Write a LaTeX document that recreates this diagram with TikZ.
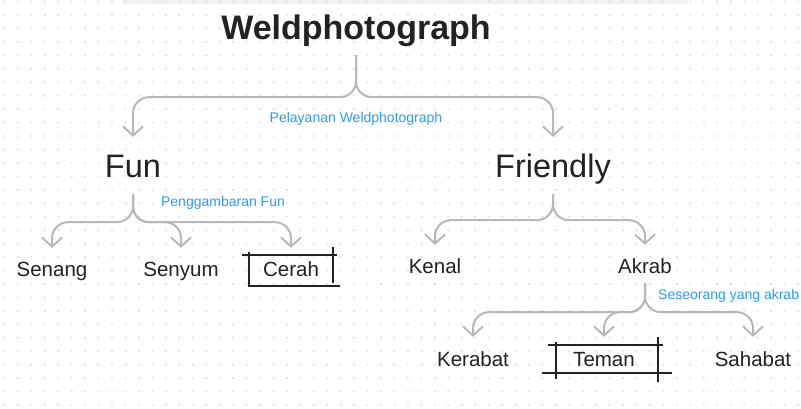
\documentclass[tikz,border=0pt]{standalone}
\usepackage{fontspec}
\setmainfont{Liberation Sans}
\usepackage{xcolor}
\usetikzlibrary{arrows.meta}
\definecolor{ink}{RGB}{34,34,34}
\definecolor{linkgray}{RGB}{184,184,184}
\definecolor{notes}{RGB}{45,155,250}
\definecolor{griddot}{RGB}{222,222,222}

\begin{document}
\begin{tikzpicture}[x=1pt, y=-1pt, >={Straight Barb[length=9pt, width=20pt]},
    root/.style={anchor=base, inner sep=0pt, text=ink, font=\bfseries\fontsize{34}{40}\selectfont, text depth=15pt},
    main/.style={anchor=base, inner sep=0pt, text=ink, font=\fontsize{32.5}{38}\selectfont, text height=41pt, text depth=16pt},
    sub/.style={anchor=base, inner sep=0pt, text=ink, font=\fontsize{20.5}{24}\selectfont, text height=28pt, text depth=10pt},
    leaf/.style={sub, text height=29pt},
    note/.style={inner sep=0pt, text=notes, font=\fontsize{14}{16}\selectfont},
    link/.style={->, draw=linkgray, line width=2pt, rounded corners=16pt},
    sketch/.style={draw=ink, line width=2pt}]
    \useasboundingbox (0,0) rectangle (801,409);
    \fill[white] (0,0) rectangle (801,409);
    \fill[black!5] (123,0) rectangle (688,4);
    \foreach \i in {0,...,59}
        \foreach \j in {0,...,30}
            \fill[griddot] (4.4+13.45*\i, 1.55+13.45*\j) circle (1.1pt);

    \node(root)[root] at (356,40) {Weldphotograph};
    \node(fun)[main] at (133,178) {Fun};
    \node(friendly)[main] at (553,178) {Friendly};
    \node(senang)[sub] at (52,276) {Senang};
    \node(senyum)[sub] at (181,276) {Senyum};
    \node(cerah)[sub] at (291,276) {Cerah};
    \node(kenal)[sub] at (435,273) {Kenal};
    \node(akrab)[sub] at (645,273) {Akrab};
    \node(kerabat)[leaf] at (473,366) {Kerabat};
    \node(teman)[leaf] at (604,366) {Teman};
    \node(sahabat)[leaf] at (753,366) {Sahabat};

    \node(note-root)[note] at (356,119) {Pelayanan Weldphotograph};
    \node(note-fun)[note] at (223,203) {Penggambaran Fun};
    \node(note-akrab)[note, anchor=west] at (658,296) {Seseorang yang akrab};

    \draw[link] (root.south) -- ++(0,42) -| (fun.north);
    \draw[link] (root.south) -- ++(0,42) -| (friendly.north);
    \draw[link] (fun.south) -- ++(0,28) -| (senang.north);
    \draw[link] (fun.south) -- ++(0,28) -| (senyum.north);
    \draw[link] (fun.south) -- ++(0,28) -| (cerah.north);
    \draw[link] (friendly.south) -- ++(0,26) -| (kenal.north);
    \draw[link] (friendly.south) -- ++(0,26) -| (akrab.north);
    \draw[link] (akrab.south) -- ++(0,29) -| (kerabat.north);
    \draw[link] (akrab.south) -- ++(0,29) -| (teman.north);
    \draw[link] (akrab.south) -- ++(0,29) -| (sahabat.north);

    \draw[sketch] (242,255) -- (337,255) (249,252) -- (249,287)
        (333,247) -- (333,283) (248,286) -- (340,286);
    \draw[sketch] (548,345) -- (663,345) (556,342) -- (556,379)
        (658,337) -- (658,382) (542,373) -- (672,373);
\end{tikzpicture}
\end{document}
